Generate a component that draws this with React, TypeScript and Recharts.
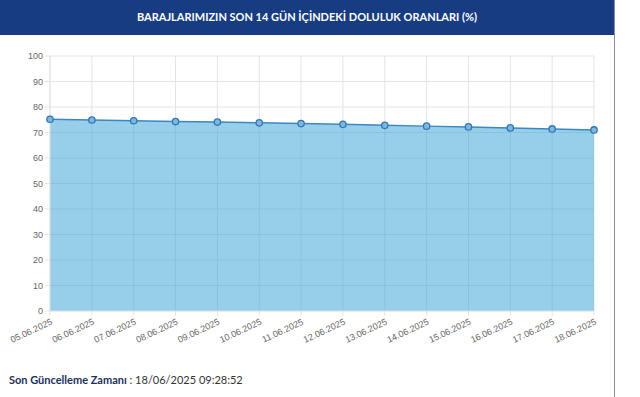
import React from "react";
import {
  AreaChart,
  Area,
  XAxis,
  YAxis,
  CartesianGrid,
} from "recharts";

// dates for the last 14 days
const days = [
  "05.06.2025", "06.06.2025", "07.06.2025", "08.06.2025", "09.06.2025",
  "10.06.2025", "11.06.2025", "12.06.2025", "13.06.2025", "14.06.2025",
  "15.06.2025", "16.06.2025", "17.06.2025", "18.06.2025",
];

// doluluk oranları (%)
const fillRates = [
  75.2, 74.9, 74.6, 74.3, 74.1, 73.8, 73.5, 73.2, 72.8, 72.5, 72.2, 71.8, 71.4, 71.0,
];

const yTicks = [0, 10, 20, 30, 40, 50, 60, 70, 80, 90, 100];

const data = days.map((d, i) => ({ date: d, rate: fillRates[i] }));

const DateTick = ({ x, y, payload }: any) => (
  <text
    x={x + 3}
    y={y + 6}
    textAnchor="end"
    fontSize={9}
    fill="#666"
    fontFamily="Liberation Sans, Arial, sans-serif"
    transform={`rotate(-25, ${x + 3}, ${y + 6})`}
  >
    {payload.value}
  </text>
);

const App = () => {
  return (
    <div
      style={{
        position: "absolute",
        left: 0,
        top: 0,
        width: 640,
        height: 397,
        background: "#fff",
        overflow: "hidden",
      }}
    >
      <div
        style={{
          position: "absolute",
          left: 0,
          top: 0,
          width: 614,
          height: 35,
          background: "#173c82",
          color: "#fff",
          fontFamily: "Lato, 'Noto Sans', sans-serif",
          fontWeight: 700,
          fontSize: 11,
          lineHeight: "33px",
          textAlign: "center",
        }}
      >
        BARAJLARIMIZIN SON 14 GÜN İÇİNDEKİ DOLULUK ORANLARI (%)
      </div>
      <div
        style={{
          position: "absolute",
          left: 614,
          top: 0,
          width: 1,
          height: 397,
          background: "#8a8f98",
        }}
      />
      <div style={{ position: "absolute", left: 0, top: 0 }}>
        <AreaChart
          width={614}
          height={351}
          data={data}
          margin={{ top: 56, right: 20, left: 0, bottom: 0 }}
        >
          <CartesianGrid stroke="#e4e4e4" strokeWidth={1} />
          <XAxis
            dataKey="date"
            tick={<DateTick />}
            interval={0}
            height={40}
            tickSize={5}
            tickLine={{ stroke: "#e4e4e4" }}
            axisLine={{ stroke: "#e4e4e4" }}
          />
          <YAxis
            domain={[0, 100]}
            ticks={yTicks}
            width={50}
            tickSize={5}
            tickMargin={2}
            tickLine={{ stroke: "#e4e4e4" }}
            axisLine={{ stroke: "#e4e4e4" }}
            tick={{
              fontSize: 9,
              fill: "#666",
              fontFamily: "Liberation Sans, Arial, sans-serif",
            }}
          />
          <Area
            type="linear"
            dataKey="rate"
            stroke="#3a88c4"
            strokeWidth={1.5}
            fill="#2f9fd7"
            fillOpacity={0.5}
            dot={{ r: 3.2, fill: "#7fb5df", stroke: "#2f78b4", strokeWidth: 1.3, fillOpacity: 1 }}
            activeDot={false}
            isAnimationActive={false}
          />
        </AreaChart>
      </div>
      <div
        style={{
          position: "absolute",
          left: 9,
          top: 373,
          fontFamily: "Lato, 'Noto Sans', sans-serif",
          fontSize: 11,
          color: "#333",
        }}
      >
        <span style={{ fontWeight: 700, color: "#1c2f5c" }}>Son Güncelleme Zamanı</span>
        {" : 18/06/2025 09:28:52"}
      </div>
    </div>
  );
};

export default App;
